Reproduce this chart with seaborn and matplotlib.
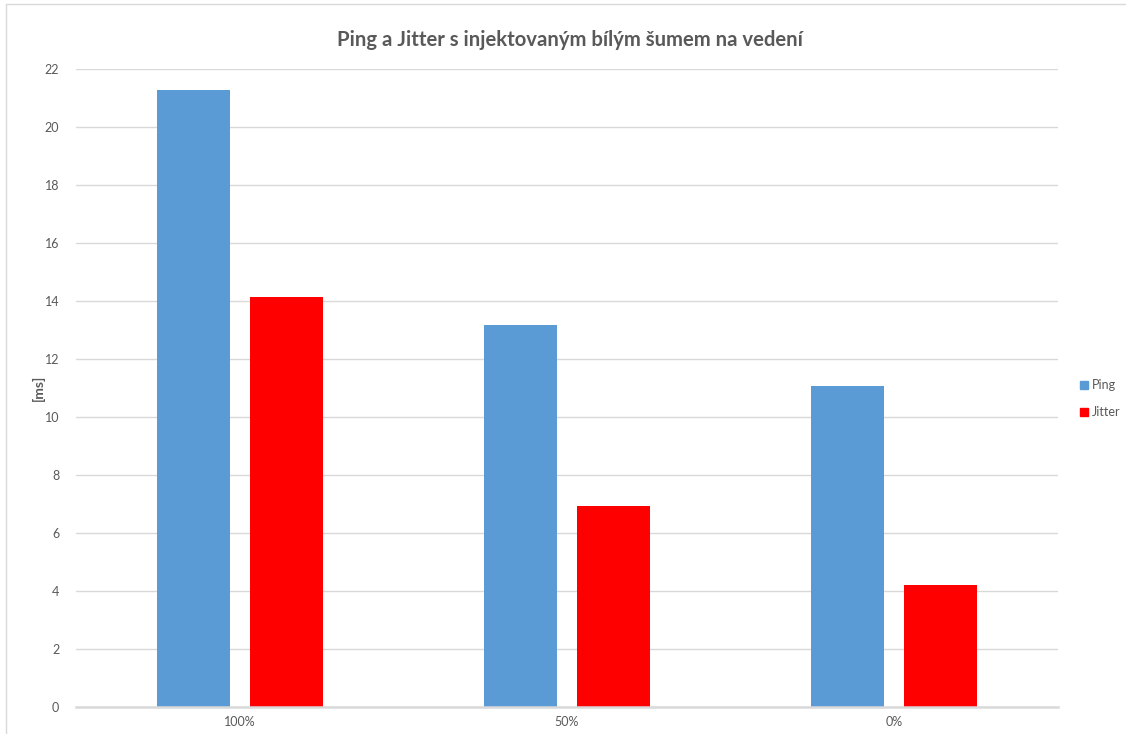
import matplotlib
matplotlib.use("Agg")
import matplotlib.pyplot as plt
import matplotlib.lines as mlines
import matplotlib.patches as mpatches
import seaborn as sns
import pandas as pd

# Measured latency per noise level
levels = ["100%", "50%", "0%"]
ping = [21.28, 13.18, 11.08]
jitter = [14.14, 6.94, 4.22]
series_names = ["Ping", "Jitter"]
y_ticks = list(range(0, 23, 2))

title = "Ping a Jitter s injektovaným bílým šumem na vedení"
y_label = "[ms]"

df = pd.DataFrame({
    "level": levels * 2,
    "value": ping + jitter,
    "series": [series_names[0]] * len(levels) + [series_names[1]] * len(levels),
})

sns.set_theme(style="white")
plt.rcParams["font.family"] = ["Lato", "DejaVu Sans"]

text_gray = "#595959"
grid_gray = "#d9d9d9"
palette = {"Ping": "#5B9BD5", "Jitter": "#FF0000"}

fig = plt.figure(figsize=(11.26, 7.34), dpi=100)
ax = fig.add_axes([0.0675, 0.0364, 0.8718, 0.8692])

sns.barplot(data=df, x="level", y="value", hue="series", order=levels,
            hue_order=series_names, palette=palette, width=0.568,
            saturation=1, legend=False, ax=ax, zorder=3)

# Narrow each bar around its slot centre so a gap opens between the pair
bar_w = 0.223
for p in ax.patches:
    cx = p.get_x() + p.get_width() / 2
    p.set_width(bar_w)
    p.set_x(cx - bar_w / 2)
    p.set_linewidth(0)

ax.set_xlim(-0.5, len(levels) - 0.5)
ax.set_ylim(0, 22)
ax.set_yticks(y_ticks)
ax.yaxis.grid(True, color=grid_gray, linewidth=1.0, zorder=0)
ax.set_axisbelow(True)
for side in ["top", "right", "left"]:
    ax.spines[side].set_visible(False)
ax.spines["bottom"].set_color(grid_gray)
ax.spines["bottom"].set_linewidth(1.8)
ax.spines["bottom"].set_zorder(4)

ax.tick_params(axis="both", length=0, labelsize=9, labelcolor=text_gray)
ax.tick_params(axis="y", pad=12)
ax.tick_params(axis="x", pad=6)
ax.set_xlabel("")
ax.set_ylabel(y_label, fontsize=10, color=text_gray, fontweight="bold", labelpad=0)

fig.text(0.506, 0.946, title, ha="center", va="center", fontsize=14.6,
         fontweight="bold", color=text_gray)

handles = [mpatches.Patch(color=palette[s], label=s) for s in series_names]
leg = fig.legend(handles=handles, loc="center left", bbox_to_anchor=(0.955, 0.457),
                 frameon=False, fontsize=9, handlelength=0.6, handleheight=0.6,
                 handletextpad=0.3, labelspacing=1.2, borderaxespad=0)
for t in leg.get_texts():
    t.set_color(text_gray)

# Chart-area border along the left and top edges
border = "#d9d9d9"
fig.add_artist(mlines.Line2D([6 / 1126, 6 / 1126], [0, 1 - 4 / 734],
                             transform=fig.transFigure, color=border, linewidth=1))
fig.add_artist(mlines.Line2D([6 / 1126, 1], [1 - 4 / 734, 1 - 4 / 734],
                             transform=fig.transFigure, color=border, linewidth=1))

fig.savefig("out.png", dpi=100, facecolor="white")
